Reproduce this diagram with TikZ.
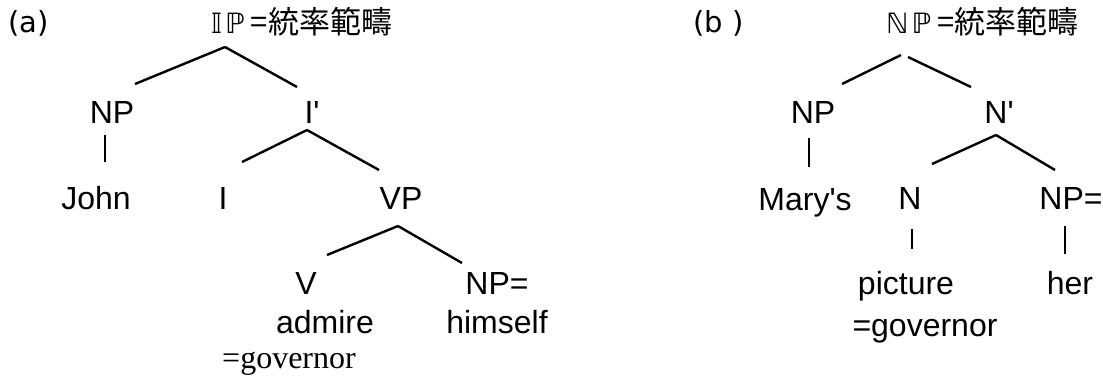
\documentclass[tikz,border=0pt]{standalone}
\usepackage{fontspec}
\setmainfont[Ligatures=TeXOff]{Liberation Sans}
\newfontfamily\cjkfont{Noto Sans CJK JP}
\newfontfamily\dsfont{DejaVu Sans}
\newfontfamily\serifgov{Liberation Serif}
\usepackage{tikz}
\usetikzlibrary{positioning,calc}

\tikzset{
  word/.style={inner sep=0pt, anchor=base, font=\fontsize{32}{36}\selectfont},
  tag/.style={inner sep=0pt, anchor=base west, font=\dsfont\fontsize{29}{34}\selectfont},
  head/.style={inner sep=0pt, anchor=base west, font=\cjkfont\fontsize{31}{36}\selectfont},
  branch/.style={line width=2.4pt},
  stem/.style={line width=2.6pt}
}

\begin{document}
\begin{tikzpicture}[x=1pt, y=-1pt]
  \useasboundingbox (0,0) rectangle (1103,376);

  % (a) IP
  \node[tag] (lbla) at (8,32) {(a)};
  \node[head] (ipt) at (211,33) {{\dsfont\fontsize{28}{32}\selectfont 𝕀\hspace{3pt}ℙ\hspace{6pt}}=統率範疇};
  \node[word] (np1) at (112,123) {NP};
  \node[word] (ib1) at (312,123) {I'};
  \node[word] (john) at (96,209) {John};
  \node[word] (i1) at (223,209) {I};
  \node[word] (vp) at (401,209) {VP};
  \node[word] (v) at (306,294) {V};
  \node[word] (np2) at (497,294) {NP=};
  \node[word] (admire) at (325,333) {admire};
  \node[word] (himself) at (497,333) {himself};
  \node[word, font=\fontsize{32}{36}\serifgov] (gov1) at (289,368) {=governor};

  \coordinate (ipa) at ([shift={(14,14)}]ipt.base west);
  \coordinate (iba) at ([shift={(-5,7)}]ib1.base);
  \coordinate (vpa) at ([shift={(-3,17)}]vp.base);
  \draw[branch] (ipa) -- ([shift={(23,-39)}]np1.base);
  \draw[branch] (ipa) -- ([shift={(-15,-36)}]ib1.base);
  \draw[stem] ([shift={(-7,12)}]np1.base) -- ([shift={(-7,39)}]np1.base);
  \draw[branch] (iba) -- ([shift={(19,-47)}]i1.base);
  \draw[branch] (iba) -- ([shift={(-22,-39)}]vp.base);
  \draw[branch] (vpa) -- ([shift={(21,-39)}]v.base);
  \draw[branch] (vpa) -- ([shift={(-35,-31)}]np2.base);

  % (b) NP
  \node[tag] (lblb) at (693,32) {(b )};
  \node[head] (npt) at (886,33) {{\dsfont\fontsize{28}{32}\selectfont ℕ\hspace{3pt}ℙ\hspace{6pt}}=統率範疇};
  \node[word] (np3) at (813,123) {NP};
  \node[word] (nb) at (999,123) {N'};
  \node[word] (marys) at (805,210) {Mary's};
  \node[word] (n1) at (910,209) {N};
  \node[word] (np4) at (1071,209) {NP=};
  \node[word] (picture) at (906,294) {picture};
  \node[word] (her) at (1070,294) {her};
  \node[word] (gov2) at (925,336) {=governor};

  \coordinate (npal) at ([shift={(15,22)}]npt.base west);
  \coordinate (npar) at ([shift={(22,24)}]npt.base west);
  \coordinate (nba) at ([shift={(-3,12)}]nb.base);
  \draw[branch] (npal) -- ([shift={(29,-39)}]np3.base);
  \draw[branch] (npar) -- ([shift={(-28,-36)}]nb.base);
  \draw[stem] ([shift={(-4,15)}]np3.base) -- ([shift={(-4,44)}]np3.base);
  \draw[branch] (nba) -- ([shift={(22,-45)}]n1.base);
  \draw[branch] (nba) -- ([shift={(-16,-39)}]np4.base);
  \draw[stem] ([shift={(2,20)}]n1.base) -- ([shift={(2,40)}]n1.base);
  \draw[stem] ([shift={(-6,17)}]np4.base) -- ([shift={(-6,45)}]np4.base);
\end{tikzpicture}
\end{document}
